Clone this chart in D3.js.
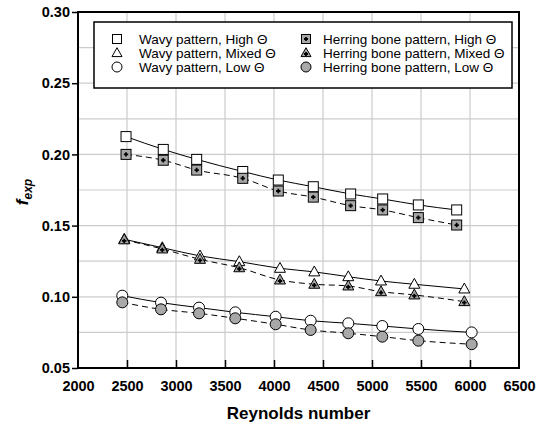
<!DOCTYPE html>
<html><head><meta charset="utf-8">
<script src="https://cdn.jsdelivr.net/npm/d3@7"></script>
<style>body{margin:0;background:#fff;} svg{display:block;font-family:"Liberation Sans",Arial,sans-serif;}</style>
</head><body>
<svg id="c" width="537" height="426"></svg>
<script>
// ---- data ----
const xTicks = [2000,2500,3000,3500,4000,4500,5000,5500,6000,6500];
const yTicks = [0.05,0.10,0.15,0.20,0.25,0.30];
const reHigh  = [2490,2870,3211,3681,4044,4401,4782,5109,5473,5864];
const reMixed = [2472,2860,3245,3646,4061,4411,4758,5092,5432,5942];
const reLow   = [2452,2847,3235,3605,4017,4374,4758,5105,5473,6017];
const wavyHigh   = [0.2125,0.2035,0.1965,0.1880,0.1820,0.1773,0.1722,0.1687,0.1645,0.1610];
const herrHigh   = [0.2000,0.1959,0.1890,0.1832,0.1743,0.1700,0.1640,0.1610,0.1556,0.1504];
const wavyMixed  = [0.1404,0.1345,0.1287,0.1247,0.1200,0.1175,0.1141,0.1111,0.1088,0.1055];
const herrMixed  = [0.1400,0.1336,0.1263,0.1204,0.1118,0.1088,0.1076,0.1036,0.1013,0.0966];
const wavyLow    = [0.1008,0.0959,0.0924,0.0891,0.0860,0.0832,0.0814,0.0795,0.0774,0.0750];
const herrLow    = [0.0961,0.0912,0.0884,0.0849,0.0807,0.0767,0.0744,0.0720,0.0692,0.0667];
const legendLabels = ["Wavy pattern, High Θ","Wavy pattern, Mixed Θ","Wavy pattern, Low Θ",
  "Herring bone pattern, High Θ","Herring bone pattern, Mixed Θ","Herring bone pattern, Low Θ"];

const series = [
  {re:reHigh, v:wavyHigh, shape:"square", filled:false, dash:false},
  {re:reHigh, v:herrHigh, shape:"square", filled:true, dash:true},
  {re:reMixed, v:wavyMixed, shape:"triangle", filled:false, dash:false},
  {re:reMixed, v:herrMixed, shape:"triangle", filled:true, dash:true},
  {re:reLow, v:wavyLow, shape:"circle", filled:false, dash:false},
  {re:reLow, v:herrLow, shape:"circle", filled:true, dash:true},
];

const svg = d3.select("#c");
const L=78, R=519, T=12, B=368;
const x = d3.scaleLinear().domain([2000,6500]).range([L,R]);
const y = d3.scaleLinear().domain([0.05,0.30]).range([B,T]);

// grid
const g = svg.append("g");
g.selectAll(".vg").data(d3.range(2500,6500,500)).join("line")
  .attr("x1",d=>x(d)).attr("x2",d=>x(d)).attr("y1",T).attr("y2",B)
  .attr("stroke","#cccccc").attr("stroke-width",1.2);
g.selectAll(".hg").data(d3.range(1,10).map(i=>0.05+i*0.025)).join("line")
  .attr("x1",L).attr("x2",R).attr("y1",d=>y(d)).attr("y2",d=>y(d))
  .attr("stroke","#cccccc").attr("stroke-width",1.2);

// axes
const xAxis = d3.axisBottom(x).tickValues(xTicks).tickFormat(d3.format("d")).tickSizeInner(-8).tickSizeOuter(0).tickPadding(13);
const xg = svg.append("g").attr("transform",`translate(0,${B})`).call(xAxis);
xg.selectAll("text").attr("font-size","14.5px").attr("font-weight","bold").attr("fill","#000");
xg.selectAll("line").attr("stroke","#000").attr("stroke-width",1.5);
xg.select(".domain").remove();
xg.selectAll(".tick").filter(d=>d===2000||d===6500).select("line").remove();

const yAxis = d3.axisLeft(y).tickValues(yTicks).tickFormat(d3.format(".2f")).tickSizeInner(6).tickSizeOuter(0).tickPadding(2);
const yg = svg.append("g").attr("transform",`translate(${L},0)`).call(yAxis);
yg.selectAll("text").attr("font-size","14.5px").attr("font-weight","bold").attr("fill","#000");
yg.selectAll("line").attr("stroke","#000").attr("stroke-width",1.5);
yg.select(".domain").remove();

svg.append("rect").attr("x",L).attr("y",T).attr("width",R-L).attr("height",B-T)
  .attr("fill","none").attr("stroke","#000").attr("stroke-width",2);

// titles
svg.append("text").attr("x",(L+R)/2).attr("y",419).attr("text-anchor","middle")
  .attr("font-size","17px").attr("font-weight","bold").text("Reynolds number");
const yl = svg.append("text").attr("transform","translate(28,192) rotate(-90)").attr("text-anchor","middle")
  .attr("font-size","17px").attr("font-weight","bold").attr("font-style","italic");
yl.append("tspan").text("f");
yl.append("tspan").attr("font-size","12px").attr("dy","4").text("exp");

// markers
const GRAY="#a8a8a8";
function drawMarker(sel, shape, filled, cx, cy, s){
  const fill = filled?GRAY:"#fff";
  if(shape==="square"){
    sel.append("rect").attr("x",cx-s/2).attr("y",cy-s/2).attr("width",s).attr("height",s)
      .attr("fill",fill).attr("stroke","#000").attr("stroke-width",1);
  } else if(shape==="circle"){
    sel.append("circle").attr("cx",cx).attr("cy",cy).attr("r",s/2+0.5)
      .attr("fill",fill).attr("stroke","#000").attr("stroke-width",1);
  } else {
    const h=s*0.95;
    sel.append("path").attr("d",`M${cx},${cy-h*0.62}L${cx+s/2+0.5},${cy+h*0.42}L${cx-s/2-0.5},${cy+h*0.42}Z`)
      .attr("fill",fill).attr("stroke","#000").attr("stroke-width",1);
  }
  if(filled && shape!=="circle"){
    const p=s*0.22, oy = shape==="triangle"?1:0;
    sel.append("path").attr("d",`M${cx-p},${cy+oy}H${cx+p}M${cx},${cy+oy-p}V${cy+oy+p}`)
      .attr("stroke","#000").attr("stroke-width",1.8);
  }
}

const line = d3.line().x(d=>x(d[0])).y(d=>y(d[1])).curve(d3.curveMonotoneX);
const pg = svg.append("g");
series.forEach(s=>{
  const pts = s.re.map((r,i)=>[r,s.v[i]]);
  pg.append("path").attr("d",line(pts)).attr("fill","none").attr("stroke","#000")
    .attr("stroke-width",1).attr("stroke-dasharray",s.dash?"6,4":null);
});
series.forEach(s=>{
  s.re.forEach((r,i)=>drawMarker(pg, s.shape, s.filled, x(r), y(s.v[i]), 10));
});

// legend
const lg = svg.append("g");
lg.append("rect").attr("x",94).attr("y",22).attr("width",418).attr("height",66)
  .attr("fill","#fff").attr("stroke","#000").attr("stroke-width",1.5);
const rows=[39,53,67];
const legShapes=["square","triangle","circle"];
for(let c=0;c<2;c++){
  for(let r=0;r<3;r++){
    const sx = c===0?117:306, tx = c===0?139:323;
    drawMarker(lg, legShapes[r], c===1, sx, rows[r], 9);
    lg.append("text").attr("x",tx).attr("y",rows[r]+4.5).attr("font-size","13.5px").text(legendLabels[c*3+r]);
  }
}
</script>
</body></html>
